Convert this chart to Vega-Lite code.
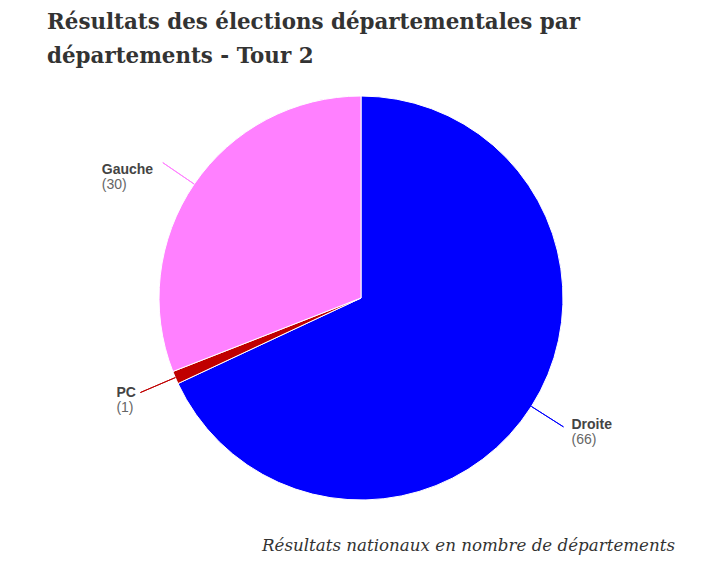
{
  "$schema": "https://vega.github.io/schema/vega-lite/v6.json",
  "width": 710,
  "height": 404,
  "autosize": {"type": "none"},
  "padding": {"left": 6, "top": 96, "right": 0, "bottom": 75},
  "background": "white",
  "config": {"view": {"stroke": null}},
  "title": {
    "text": ["Résultats des élections départementales par", "départements - Tour 2"],
    "anchor": "start",
    "frame": "group",
    "dx": 41,
    "offset": 27,
    "font": "DejaVu Serif",
    "fontSize": 21.4,
    "fontWeight": "bold",
    "color": "#333333",
    "lineHeight": 34
  },
  "data": {
    "values": [
      {"party": "Droite", "value": 66},
      {"party": "PC", "value": 1},
      {"party": "Gauche", "value": 30}
    ]
  },
  "transform": [
    {"window": [{"op": "sum", "field": "value", "as": "cum"}], "frame": [null, 0]},
    {"calculate": "datum.cum - datum.value", "as": "start"},
    {"calculate": "datum.cum - datum.value / 2", "as": "mid"}
  ],
  "layer": [
    {
      "mark": {"type": "arc", "radius": 202, "stroke": "#ffffff", "strokeWidth": 1},
      "encoding": {
        "theta": {"field": "start", "type": "quantitative", "stack": false, "scale": {"domain": [0, 97], "range": [0, 6.283185307179586], "zero": true, "nice": false}},
        "theta2": {"field": "cum"},
        "color": {
          "field": "party",
          "type": "nominal",
          "scale": {"domain": ["Droite", "PC", "Gauche"], "range": ["#0000ff", "#c00000", "#ff80ff"]},
          "legend": null
        }
      }
    },
    {
      "mark": {"type": "arc", "radius": 240, "radius2": 202, "filled": false, "strokeWidth": 1},
      "encoding": {
        "theta": {"field": "mid", "type": "quantitative", "stack": false},
        "theta2": {"field": "mid"},
        "color": {"field": "party", "type": "nominal", "legend": null}
      }
    },
    {
      "transform": [{"filter": "datum.party === 'Gauche'"}],
      "mark": {"type": "text", "radius": 240, "align": "left", "baseline": "alphabetic", "dx": -61, "dy": 11, "font": "Liberation Sans", "fontSize": 14, "fontWeight": "bold", "fill": "#444444"},
      "encoding": {"theta": {"field": "mid", "type": "quantitative", "stack": false}, "text": {"field": "party"}}
    },
    {
      "transform": [{"filter": "datum.party === 'Gauche'"}, {"calculate": "'(' + datum.value + ')'", "as": "label"}],
      "mark": {"type": "text", "radius": 240, "align": "left", "baseline": "alphabetic", "dx": -61, "dy": 26, "font": "Liberation Sans", "fontSize": 14, "fill": "#666666"},
      "encoding": {"theta": {"field": "mid", "type": "quantitative", "stack": false}, "text": {"field": "label"}}
    },
    {
      "transform": [{"filter": "datum.party === 'PC'"}],
      "mark": {"type": "text", "radius": 240, "align": "left", "baseline": "alphabetic", "dx": -24, "dy": 4, "font": "Liberation Sans", "fontSize": 14, "fontWeight": "bold", "fill": "#444444"},
      "encoding": {"theta": {"field": "mid", "type": "quantitative", "stack": false}, "text": {"field": "party"}}
    },
    {
      "transform": [{"filter": "datum.party === 'PC'"}, {"calculate": "'(' + datum.value + ')'", "as": "label"}],
      "mark": {"type": "text", "radius": 240, "align": "left", "baseline": "alphabetic", "dx": -24, "dy": 19, "font": "Liberation Sans", "fontSize": 14, "fill": "#666666"},
      "encoding": {"theta": {"field": "mid", "type": "quantitative", "stack": false}, "text": {"field": "label"}}
    },
    {
      "transform": [{"filter": "datum.party === 'Droite'"}],
      "mark": {"type": "text", "radius": 240, "align": "left", "baseline": "alphabetic", "dx": 8, "dy": 2, "font": "Liberation Sans", "fontSize": 14, "fontWeight": "bold", "fill": "#444444"},
      "encoding": {"theta": {"field": "mid", "type": "quantitative", "stack": false}, "text": {"field": "party"}}
    },
    {
      "transform": [{"filter": "datum.party === 'Droite'"}, {"calculate": "'(' + datum.value + ')'", "as": "label"}],
      "mark": {"type": "text", "radius": 240, "align": "left", "baseline": "alphabetic", "dx": 8, "dy": 17, "font": "Liberation Sans", "fontSize": 14, "fill": "#666666"},
      "encoding": {"theta": {"field": "mid", "type": "quantitative", "stack": false}, "text": {"field": "label"}}
    },
    {
      "data": {"values": [{"caption": "Résultats nationaux en nombre de départements"}]},
      "mark": {"type": "text", "x": "width", "y": "height", "align": "right", "baseline": "alphabetic", "dx": -41, "dy": 51, "font": "DejaVu Serif", "fontSize": 16.7, "fontStyle": "italic", "fill": "#333333"},
      "encoding": {"text": {"field": "caption"}}
    }
  ]
}
